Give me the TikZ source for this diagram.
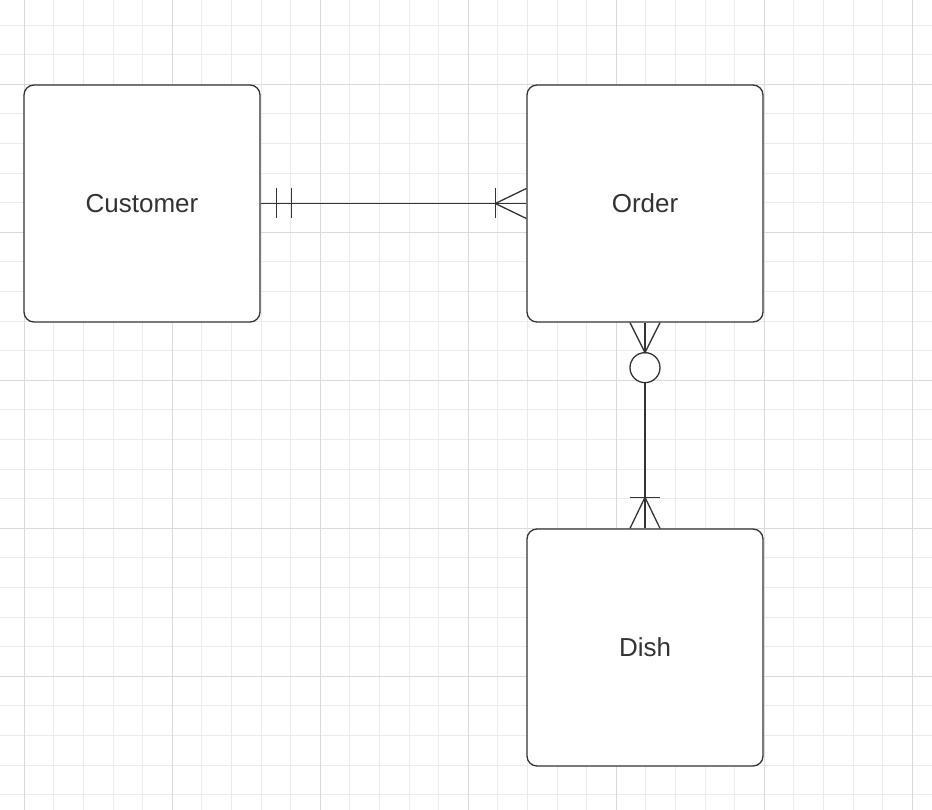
\documentclass[tikz,border=0pt]{standalone}
\usepackage{fontspec}
\setmainfont{Liberation Sans}
\usetikzlibrary{calc}
\definecolor{ink}{HTML}{333333}
\definecolor{gridminor}{HTML}{EBEBEB}
\definecolor{gridmajor}{HTML}{DADADA}
\begin{document}
\begin{tikzpicture}[x=1pt,y=-1pt,
  entity/.style={draw=ink, line width=1.3pt, rounded corners=10pt,
    minimum width=236pt, minimum height=237pt, inner sep=0pt,
    fill=white, text=ink, font=\fontsize{26}{30}\selectfont},
  rel/.style={draw=ink, line width=1.3pt},
  zeromark/.style={circle, draw=ink, line width=1.3pt, fill=white,
    minimum size=30pt, inner sep=0pt}]
% canvas and grid
\fill[white] (0,0) rectangle (932,810);
\useasboundingbox (0,0) rectangle (932,810);
\foreach \k in {0,...,30}
  \draw[gridminor, line width=1pt] (24.3+29.6*\k,0) -- (24.3+29.6*\k,810);
\foreach \k in {0,...,26}
  \draw[gridminor, line width=1pt] (0,25.1+29.6*\k) -- (932,25.1+29.6*\k);
\foreach \k in {0,...,6}
  \draw[gridmajor, line width=1pt] (24.3+148*\k,0) -- (24.3+148*\k,810);
\foreach \k in {0,...,4}
  \draw[gridmajor, line width=1pt] (0,84.3+148*\k) -- (932,84.3+148*\k);

% entities
\node[entity] (cust)  at (142,203.5) {Customer};
\node[entity] (order) at (645,203.5) {Order};
\node[entity] (dish)  at (645,647.5) {Dish};

% Customer (exactly one) -- Order (one or many)
\draw[rel] (cust.east) -- (order.west);
\draw[rel] ($(cust.east)+(16,-15)$) -- ++(0,30);
\draw[rel] ($(cust.east)+(31,-15)$) -- ++(0,30);
\coordinate (ofoot) at ($(order.west)+(-31,0)$);
\draw[rel] ($(ofoot)+(0,-15)$) -- ++(0,30);
\draw[rel] ($(order.west)+(0,-15)$) -- (ofoot) -- ($(order.west)+(0,15)$);

% Order (zero or many) -- Dish (one or many)
\node[zeromark] (zero) at ($(order.south)+(0,45)$) {};
\draw[rel] (order.south) -- (zero.north);
\draw[rel] ($(order.south)+(-15,0)$) -- ($(order.south)+(0,30)$) -- ($(order.south)+(15,0)$);
\draw[rel] (zero.south) -- (dish.north);
\coordinate (dfoot) at ($(dish.north)+(0,-31)$);
\draw[rel] ($(dfoot)+(-15,0)$) -- ++(30,0);
\draw[rel] ($(dish.north)+(-15,0)$) -- (dfoot) -- ($(dish.north)+(15,0)$);
\end{tikzpicture}
\end{document}
